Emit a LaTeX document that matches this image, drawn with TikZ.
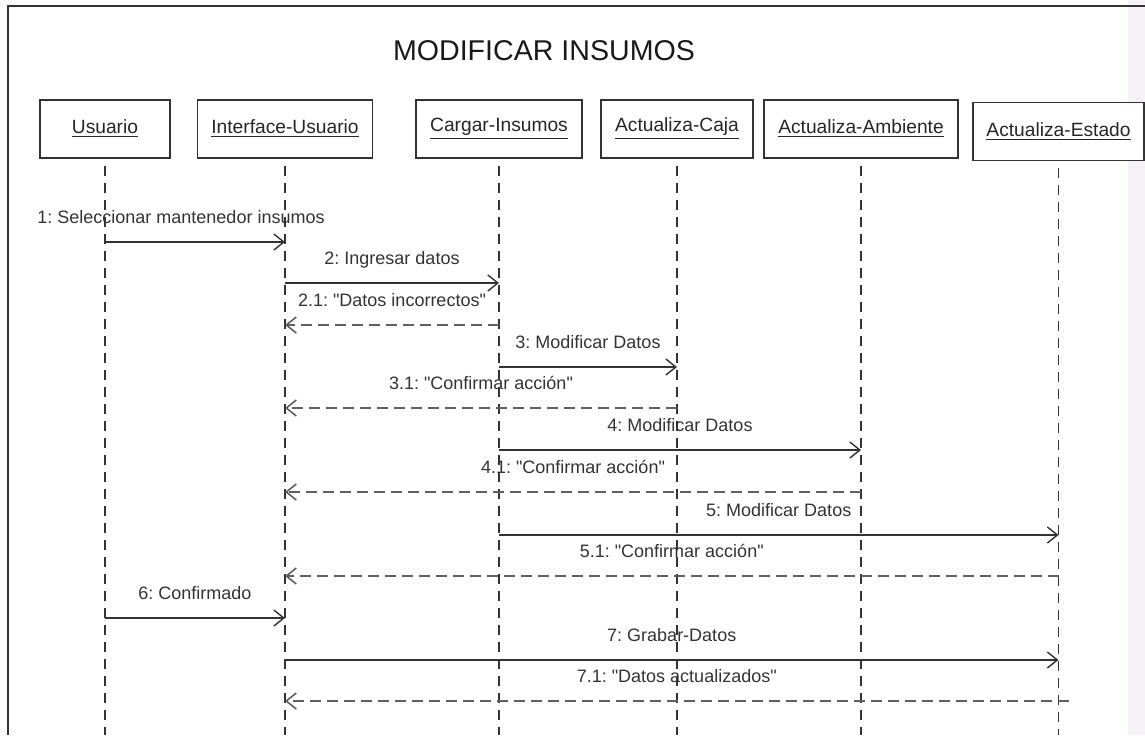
\documentclass[tikz,border=0pt]{standalone}
\usepackage{fontspec}
\setmainfont{Liberation Sans}
\usepackage{xcolor}
\usetikzlibrary{arrows.meta,positioning}
\definecolor{linea}{HTML}{333333}
\definecolor{grisretorno}{HTML}{5F5F5F}
\definecolor{franja}{HTML}{F6F1F6}
\newcommand{\cita}[1]{\textquotedbl#1\textquotedbl}
\tikzset{
  objeto/.style={rectangle,draw=linea,line width=0.7pt,fill=white,
    minimum height=29pt,inner sep=2pt,font=\fontsize{9.6}{11}\selectfont,text=black!85},
  vida/.style={draw=linea,line width=0.7pt,dash pattern=on 5pt off 3.5pt},
  mensaje/.style={-{Straight Barb[length=5pt,width=8pt]},line width=0.7pt,draw=linea},
  retorno/.style={mensaje,draw=grisretorno,line width=0.8pt,dash pattern=on 5.5pt off 3pt},
  etiqueta/.style={font=\fontsize{9}{10}\selectfont,text=black!80,inner sep=1pt,
    text height=7pt,text depth=2pt}
}

\begin{document}
\frenchspacing
\begin{tikzpicture}[x=0.5pt,y=-0.5pt]
\useasboundingbox (0,0) rectangle (1145,735);
\fill[franja] (1128,0) rectangle (1145,735);
\draw[linea,line width=1pt] (8,735) -- (8,6) -- (1145,6);
\node[font=\fontsize{14.3}{16}\selectfont,text=black!90] (titulo) at (544,51) {MODIFICAR INSUMOS};
% objetos
\node[objeto,minimum width=65pt] (usuario) at (105,129) {\underline{Usuario}};
\node[objeto,minimum width=87.5pt] (interfaz) at (285,129) {\underline{Interface-Usuario}};
\node[objeto,minimum width=83pt] (cargar) at (499,129) {\underline{Cargar-Insumos}};
\node[objeto,minimum width=76pt] (caja) at (677,129) {\underline{Actualiza-Caja}};
\node[objeto,minimum width=97pt] (ambiente) at (861,129) {\underline{Actualiza-Ambiente}};
\node[objeto,minimum width=85.5pt] (estado) at (1058.5,131.5) {\underline{Actualiza-Estado}};
% lineas de vida
\coordinate (pie) at (0,735);
\foreach \o in {usuario,interfaz,cargar,caja,ambiente,estado}
  \draw[vida] ([yshift=-3.5pt]\o.south) -- (\o.south |- pie);
% filas de los mensajes
\coordinate (f1) at (0,242);
\coordinate (f2) at (0,283);
\coordinate (f3) at (0,325);
\coordinate (f4) at (0,367);
\coordinate (f5) at (0,408);
\coordinate (f6) at (0,450);
\coordinate (f7) at (0,492);
\coordinate (f8) at (0,535);
\coordinate (f9) at (0,576);
\coordinate (f10) at (0,618);
\coordinate (f11) at (0,660);
\coordinate (f12) at (0,701);
% mensajes
\draw[mensaje](usuario |- f1)--node[etiqueta,above=6pt,xshift=-7pt]{1: Seleccionar mantenedor insumos}(interfaz |- f1);
\draw[mensaje](interfaz |- f2)--node[etiqueta,above=6pt]{2: Ingresar datos}(cargar |- f2);
\draw[retorno](cargar |- f3)--node[etiqueta,above=6pt]{2.1: \cita{Datos incorrectos}}(interfaz |- f3);
\draw[mensaje](cargar |- f4)--node[etiqueta,above=6pt]{3: Modificar Datos}(caja |- f4);
\draw[retorno](caja |- f5)--node[etiqueta,above=6pt]{3.1: \cita{Confirmar acción}}(interfaz |- f5);
\draw[mensaje](cargar |- f6)--node[etiqueta,above=6pt]{4: Modificar Datos}(ambiente |- f6);
\draw[retorno](ambiente |- f7)--node[etiqueta,above=6pt]{4.1: \cita{Confirmar acción}}(interfaz |- f7);
\draw[mensaje](cargar |- f8)--node[etiqueta,above=6pt]{5: Modificar Datos}(estado |- f8);
\draw[retorno](estado |- f9)--node[etiqueta,above=6pt]{5.1: \cita{Confirmar acción}}(interfaz |- f9);
\draw[mensaje](usuario |- f10)--node[etiqueta,above=6pt]{6: Confirmado}(interfaz |- f10);
\draw[mensaje](interfaz |- f11)--node[etiqueta,above=6pt]{7: Grabar-Datos}(estado |- f11);
\draw[retorno]([xshift=5pt]estado |- f12)--node[etiqueta,above=6pt]{7.1: \cita{Datos actualizados}}(interfaz |- f12);
\end{tikzpicture}
\end{document}
